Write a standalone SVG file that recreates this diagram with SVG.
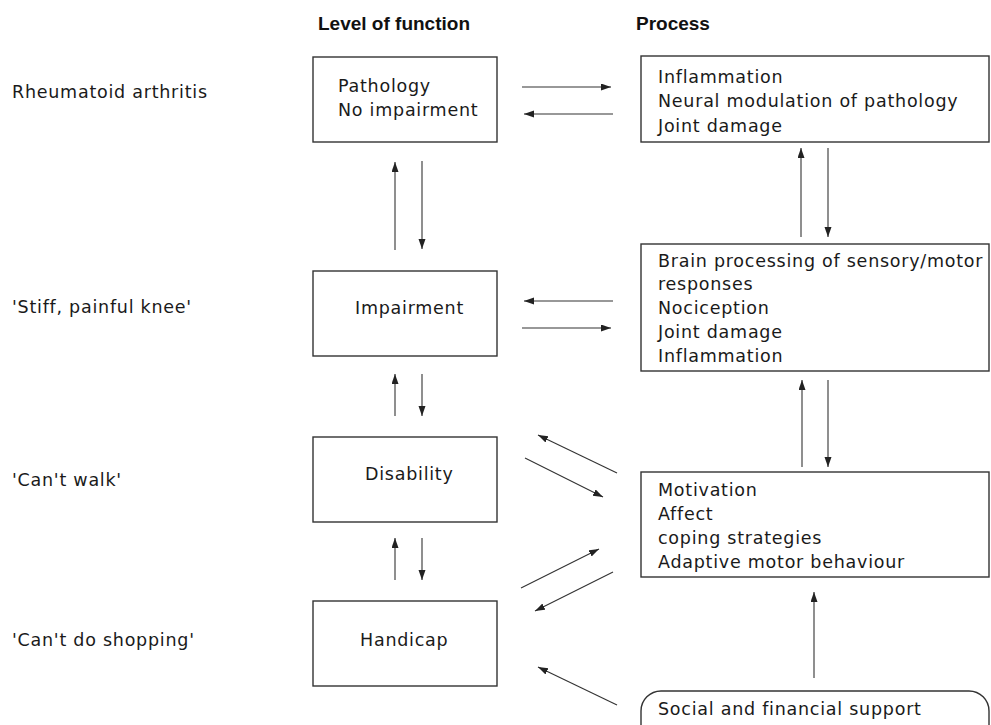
<svg xmlns="http://www.w3.org/2000/svg" width="991" height="725" viewBox="0 0 991 725">
<defs>
<marker id="ah" markerUnits="userSpaceOnUse" markerWidth="11" markerHeight="8" refX="10" refY="3.5" orient="auto">
<path d="M0,0 L10,3.5 L0,7 z" fill="#222"/>
</marker>
<style>
.box{fill:#fff;stroke:#333;stroke-width:1.4}
.t{font-family:"DejaVu Sans",sans-serif;font-size:17.5px;letter-spacing:0.75px;fill:#1a1a1a}
.h{font-family:"Liberation Sans",Arial,sans-serif;font-weight:bold;font-size:19px;fill:#111}
.c{stroke:#333;stroke-width:1.1;fill:none;marker-end:url(#ah)}
</style>
</defs>
<rect width="991" height="725" fill="#fff"/>
<g id="headers">
<text class="h" x="318" y="30">Level of function</text>
<text class="h" x="636" y="30">Process</text>
</g>
<g id="labels">
<text class="t" x="12" y="98">Rheumatoid arthritis</text>
<text class="t" x="12" y="313">'Stiff, painful knee'</text>
<text class="t" x="12" y="486">'Can't walk'</text>
<text class="t" x="12" y="646">'Can't do shopping'</text>
</g>
<g id="pathology">
<rect class="box" x="313" y="57" width="184" height="85"/>
<text class="t" x="338" y="92">Pathology</text>
<text class="t" x="338" y="116">No impairment</text>
</g>
<g id="impairment">
<rect class="box" x="313" y="271" width="184" height="85"/>
<text class="t" x="355" y="314">Impairment</text>
</g>
<g id="disability">
<rect class="box" x="313" y="437" width="184" height="85"/>
<text class="t" x="365" y="480">Disability</text>
</g>
<g id="handicap">
<rect class="box" x="313" y="601" width="184" height="85"/>
<text class="t" x="360" y="646">Handicap</text>
</g>
<g id="process1">
<rect class="box" x="641" y="56" width="348" height="86"/>
<text class="t" x="658" y="83">Inflammation</text>
<text class="t" x="658" y="107">Neural modulation of pathology</text>
<text class="t" x="658" y="132">Joint damage</text>
</g>
<g id="process2">
<rect class="box" x="641" y="244" width="348" height="127"/>
<text class="t" x="658" y="267">Brain processing of sensory/motor</text>
<text class="t" x="658" y="290">responses</text>
<text class="t" x="658" y="314">Nociception</text>
<text class="t" x="658" y="338">Joint damage</text>
<text class="t" x="658" y="362">Inflammation</text>
</g>
<g id="process3">
<rect class="box" x="641" y="472" width="348" height="105"/>
<text class="t" x="658" y="496">Motivation</text>
<text class="t" x="658" y="520">Affect</text>
<text class="t" x="658" y="544">coping strategies</text>
<text class="t" x="658" y="568">Adaptive motor behaviour</text>
</g>
<g id="support">
<rect class="box" x="641" y="691" width="348" height="60" rx="20" ry="20"/>
<text class="t" x="658" y="715">Social and financial support</text>
</g>
<g id="connectors">
<line class="c" x1="522" y1="87" x2="611" y2="87"/>
<line class="c" x1="613" y1="114" x2="524" y2="114"/>
<line class="c" x1="613" y1="301" x2="524" y2="301"/>
<line class="c" x1="522" y1="328" x2="611" y2="328"/>
<line class="c" x1="395" y1="250" x2="395" y2="162"/>
<line class="c" x1="422" y1="161" x2="422" y2="249"/>
<line class="c" x1="395" y1="416" x2="395" y2="374"/>
<line class="c" x1="422" y1="374" x2="422" y2="416"/>
<line class="c" x1="395" y1="580" x2="395" y2="538"/>
<line class="c" x1="422" y1="538" x2="422" y2="580"/>
<line class="c" x1="801" y1="237" x2="801" y2="148"/>
<line class="c" x1="828" y1="148" x2="828" y2="237"/>
<line class="c" x1="802" y1="467" x2="802" y2="380"/>
<line class="c" x1="828" y1="380" x2="828" y2="467"/>
<line class="c" x1="617" y1="473" x2="538" y2="435"/>
<line class="c" x1="525" y1="458" x2="603" y2="497"/>
<line class="c" x1="521" y1="588" x2="599" y2="549"/>
<line class="c" x1="613" y1="572" x2="535" y2="611"/>
<line class="c" x1="617" y1="705" x2="538" y2="667"/>
<line class="c" x1="814" y1="678" x2="814" y2="592"/>
</g>
</svg>
